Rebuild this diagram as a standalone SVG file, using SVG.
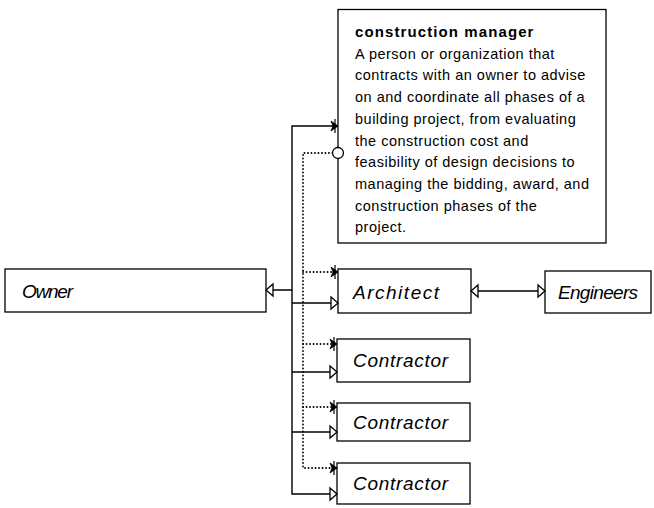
<svg xmlns="http://www.w3.org/2000/svg" width="654" height="508" viewBox="0 0 654 508">
  <style>
    .box { fill: #fff; stroke: #000; stroke-width: 1.3; }
    .lbl { font-family: "Liberation Sans", Arial, sans-serif; font-style: italic; font-size: 19px; fill: #000; }
    .body { font-family: "Liberation Sans", Arial, sans-serif; font-size: 14.5px; letter-spacing: 0.5px; fill: #000; }
    .title { font-weight: bold; font-size: 15px; letter-spacing: 1.1px; }
    .solid { fill: none; stroke: #000; stroke-width: 1.4; }
    .dot { fill: none; stroke: #000; stroke-width: 1.8; stroke-dasharray: 0.1 3.4; stroke-linecap: round; }
  </style>
  <defs>
    <marker id="op" markerUnits="userSpaceOnUse" markerWidth="14" markerHeight="16" viewBox="-2 -8 14 16" refX="7" refY="0" orient="auto-start-reverse">
      <path d="M0,-6 L7,0 L0,6 Z" fill="#fff" stroke="#000" stroke-width="1.3"/>
    </marker>
    <marker id="fa" markerUnits="userSpaceOnUse" markerWidth="14" markerHeight="18" viewBox="-2 -9 14 18" refX="7" refY="0" orient="auto">
      <path d="M0,-5 L7,0 L0,5 L2,0 Z" fill="#000" stroke="#000" stroke-width="0.8"/>
      <path d="M4,-7 V7" stroke="#000" stroke-width="1.2"/>
    </marker>
  </defs>
  <rect width="654" height="508" fill="#fff"/>

  <g id="node-construction-manager">
    <rect class="box" x="338" y="9.5" width="268" height="233.5"/>
    <text class="body title" x="355" y="37">construction manager</text>
    <text class="body" x="355" y="58.7">A person or organization that</text>
    <text class="body" x="355" y="80.4">contracts with an owner to advise</text>
    <text class="body" x="355" y="102">on and coordinate all phases of a</text>
    <text class="body" x="355" y="123.8">building project, from evaluating</text>
    <text class="body" x="355" y="145.5">the construction cost and</text>
    <text class="body" x="355" y="167.2">feasibility of design decisions to</text>
    <text class="body" x="355" y="189">managing the bidding, award, and</text>
    <text class="body" x="355" y="210.6">construction phases of the</text>
    <text class="body" x="355" y="232.3">project.</text>
  </g>

  <g id="node-owner">
    <rect class="box" x="5" y="269" width="261" height="43"/>
    <text class="lbl" x="22" y="298" textLength="51">Owner</text>
  </g>

  <g id="node-architect">
    <rect class="box" x="338" y="269" width="133" height="44"/>
    <text class="lbl" x="353" y="299" textLength="86">Architect</text>
  </g>

  <g id="node-engineers">
    <rect class="box" x="545" y="271" width="106" height="42"/>
    <text class="lbl" x="558" y="299" textLength="80">Engineers</text>
  </g>

  <g id="node-contractor-1">
    <rect class="box" x="337" y="339" width="133" height="43"/>
    <text class="lbl" x="353" y="367" textLength="95">Contractor</text>
  </g>

  <g id="node-contractor-2">
    <rect class="box" x="337" y="403" width="133" height="38"/>
    <text class="lbl" x="353" y="429" textLength="95">Contractor</text>
  </g>

  <g id="node-contractor-3">
    <rect class="box" x="337" y="463" width="133" height="41"/>
    <text class="lbl" x="353" y="490" textLength="95">Contractor</text>
  </g>

  <g id="connectors">
    <!-- solid: owner contracts -->
    <path class="solid" d="M266,290 H292 V126 H338" marker-start="url(#op)" marker-end="url(#fa)"/>
    <path class="solid" d="M292,290 V494 H337" marker-end="url(#op)"/>
    <path class="solid" d="M292,303 H338" marker-end="url(#op)"/>
    <path class="solid" d="M292,372 H337" marker-end="url(#op)"/>
    <path class="solid" d="M292,432 H337" marker-end="url(#op)"/>
    <!-- dotted: construction manager coordination -->
    <path class="dot" d="M332.5,153 H303 V468 H337" marker-end="url(#fa)"/>
    <path class="dot" d="M303,272 H338" marker-end="url(#fa)"/>
    <path class="dot" d="M303,344 H337" marker-end="url(#fa)"/>
    <path class="dot" d="M303,407 H337" marker-end="url(#fa)"/>
    <circle cx="338" cy="153" r="5.5" fill="#fff" stroke="#000" stroke-width="1.3"/>
    <!-- architect - engineers -->
    <path class="solid" d="M471,291 H545" marker-start="url(#op)" marker-end="url(#op)"/>
  </g>
</svg>
